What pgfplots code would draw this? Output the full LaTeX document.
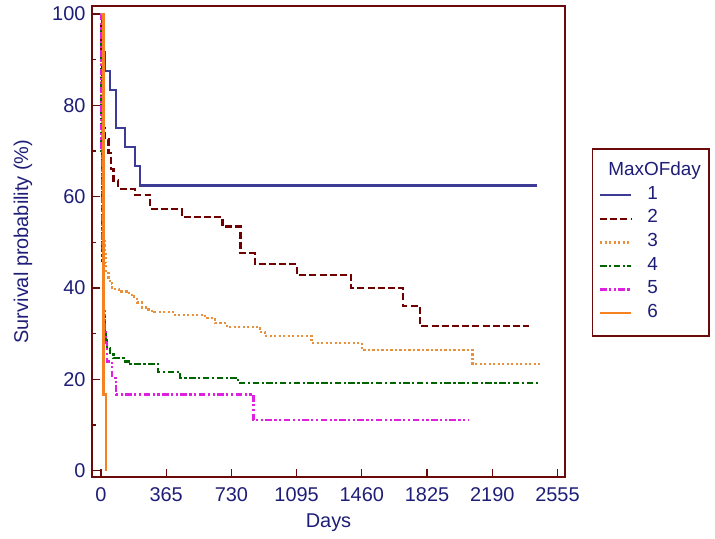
\documentclass[border=0pt]{standalone}
\usepackage{fontspec}
\setmainfont{Liberation Sans}
\usepackage{pgfplots}
\pgfplotsset{compat=1.18}
\definecolor{maroonax}{HTML}{6B0A0A}
\definecolor{navytxt}{HTML}{1E1E78}
\definecolor{c1}{HTML}{3C3C96}
\definecolor{c2}{HTML}{700000}
\definecolor{c3}{HTML}{E8903C}
\definecolor{c4}{HTML}{006400}
\definecolor{c5}{HTML}{E020E0}
\definecolor{c6}{HTML}{F58220}
\begin{document}
\begin{tikzpicture}
\path[use as bounding box] (0,0) rectangle (715bp,539bp);
\begin{axis}[
  at={(92bp,62bp)}, anchor=south west,
  scale only axis, width=473bp, height=471bp,
  xmin=-50, xmax=2597, ymin=-1.4, ymax=101.75,
  xtick={0,365,730,1095,1460,1825,2190,2555},
  ytick={0,20,40,60,80,100},
  minor ytick={10,30,50,70,90},
  scaled x ticks=false,
  tick pos=left, tick align=inside,
  major tick length=8bp, minor tick length=4bp,
  every tick/.style={draw=maroonax, line width=1.3bp},
  axis line style={draw=maroonax, line width=2.6bp},
  ticklabel style={font=\fontsize{20}{24}\selectfont, text=navytxt},
  xticklabel style={yshift=-7bp},
  yticklabel style={xshift=-3bp},
  xlabel={Days}, ylabel={Survival probability (\%)},
  every axis x label/.style={at={(axis description cs:0.5,-0.0975)}, anchor=center, font=\fontsize{20}{24}\selectfont, text=navytxt},
  every axis y label/.style={at={(axis description cs:-0.146,0.5)}, anchor=center, rotate=90, font=\fontsize{20}{24}\selectfont, text=navytxt},
  legend image code/.code={\draw[#1] (0bp,0bp) -- (31bp,0bp);},
  legend style={at={(1.057,0.6985)}, anchor=north west, draw=maroonax, line width=1.5bp, fill=white,
    inner xsep=6bp, inner ysep=11bp, column sep=13bp, row sep=0bp,
    font=\fontsize{19}{22}\selectfont,
    nodes={text=navytxt, inner sep=2bp, text height=14bp, text depth=5.6bp},
    cells={anchor=west}},
  const plot,
  /pgf/number format/1000 sep={},
  /pgf/number format/assume math mode=true,
]
\addlegendimage{empty legend}
\addlegendentry{\hspace{-39bp}MaxOFday\hspace{6bp}}
% 1
\addplot[c1, line width=2.6bp, solid] coordinates {
(0,100) (8,91.67) (21,87.5) (50,83.33) (84,75) (134,70.83) (190,66.67) (218,62.5) (2440,62.5)};
\addlegendentry{1}
% 2
\addplot[c2, line width=2.4bp, dash pattern=on 7bp off 3.2bp] coordinates {
(0,100) (3,90) (6,80) (10,75) (22,72.5) (43,69.5) (58,66) (70,63.5) (97,61.7) (190,60.4) (276,57.3) (452,55.6) (681,53.5) (780,47.6) (862,45.2) (1097,42.9) (1399,40.0) (1690,36.0) (1785,31.7) (2395,31.7)};
\addlegendentry{2}
% 3
\addplot[c3, line width=2.3bp, dash pattern=on 2.2bp off 2.3bp] coordinates {
(0,100) (2,88) (4,78) (6,70) (8,63) (10,58) (13,54) (16,51) (20,48) (25,45.5) (30,43.5) (42,42) (50,41) (62,39.8) (100,39.2) (145,38.9) (173,38.1) (201,36.8) (229,35.7) (266,35.0) (300,34.8) (403,34.1) (582,33.4) (638,32.3) (705,31.5) (890,30.4) (917,29.5) (1178,28.0) (1459,26.4) (2080,23.3) (2457,23.3)};
\addlegendentry{3}
% 4
\addplot[c4, line width=2.3bp, dash pattern=on 6.5bp off 2.5bp on 2.2bp off 2.5bp] coordinates {
(0,100) (2,85) (4,70) (6,56) (8,46) (11,39) (15,34) (20,30.5) (26,28.6) (34,26.9) (50,25.4) (71,24.7) (134,23.9) (165,23.3) (319,21.6) (442,20.3) (767,19.2) (2457,19.2)};
\addlegendentry{4}
% 5
\addplot[c5, line width=2.3bp, dash pattern=on 6.5bp off 2.5bp on 2.2bp off 2.5bp on 2.2bp off 2.5bp] coordinates {
(0,100) (2,85) (4,70) (6,58) (8,48) (11,40) (15,35) (20,31) (26,28) (34,23.9) (62,20.3) (84,16.67) (853,11.11) (2054,11.11)};
\addlegendentry{5}
% 6
\addplot[c6, line width=2.4bp, solid] coordinates {
(0,100) (15,16.67) (28,0)};
\addlegendentry{6}
\end{axis}
\end{tikzpicture}
\end{document}
